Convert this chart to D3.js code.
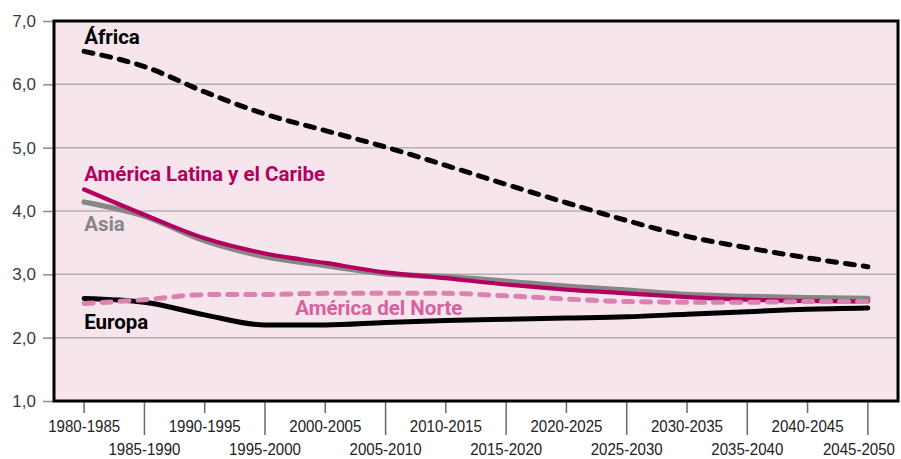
<!DOCTYPE html>
<html>
<head>
<meta charset="utf-8">
<script src="https://cdn.jsdelivr.net/npm/d3@7"></script>
<style>
  body { margin: 0; background: #fff; }
  svg { display: block; }
</style>
</head>
<body>
<div id="chart"></div>
<script>
let w = 901, h = 459;
let margin = {top: 21, right: 3, bottom: 58, left: 54};

// periods on the x axis
let periods = ["1980-1985","1985-1990","1990-1995","1995-2000","2000-2005","2005-2010","2010-2015",
  "2015-2020","2020-2025","2025-2030","2030-2035","2035-2040","2040-2045","2045-2050"];

// fertility rate per region
let africa   = [6.52, 6.28, 5.88, 5.53, 5.27, 5.01, 4.72, 4.42, 4.13, 3.85, 3.60, 3.42, 3.26, 3.12];
let asia     = [4.14, 3.92, 3.53, 3.28, 3.14, 3.01, 2.96, 2.89, 2.81, 2.75, 2.68, 2.65, 2.63, 2.62];
let latam    = [4.34, 3.94, 3.57, 3.33, 3.18, 3.03, 2.94, 2.84, 2.76, 2.70, 2.64, 2.60, 2.58, 2.57];
let europe   = [2.62, 2.56, 2.36, 2.20, 2.20, 2.24, 2.27, 2.29, 2.31, 2.33, 2.37, 2.41, 2.45, 2.47];
let northAm  = [2.54, 2.60, 2.68, 2.68, 2.70, 2.70, 2.70, 2.66, 2.61, 2.57, 2.56, 2.56, 2.57, 2.57];

let yTicks = [1, 2, 3, 4, 5, 6, 7];

let viz = d3.select("#chart").append("svg")
  .attr("width", w)
  .attr("height", h);

let x = d3.scalePoint().domain(periods)
  .range([margin.left, w - margin.right]).padding(0.5);
let y = d3.scaleLinear().domain([1, 7]).range([h - margin.bottom, margin.top]);

// background
viz.append("rect")
  .attr("x", margin.left).attr("y", margin.top)
  .attr("width", w - margin.right - margin.left)
  .attr("height", h - margin.bottom - margin.top)
  .attr("fill", "#f6e5ed");

// grid lines
viz.selectAll(".grid").data(yTicks.slice(1, -1)).enter()
  .append("line")
  .attr("x1", margin.left).attr("x2", w - margin.right)
  .attr("y1", d => y(d)).attr("y2", d => y(d))
  .attr("stroke", "#b3b0b2").attr("stroke-width", 1.5);

// y axis
let yAxis = d3.axisLeft(y).tickValues(yTicks).tickSize(11).tickPadding(7)
  .tickFormat(d => d3.format(".1f")(d).replace(".", ","));
let yg = viz.append("g").attr("transform", "translate(" + margin.left + ",0)").call(yAxis);
yg.select(".domain").remove();
yg.selectAll("line").attr("stroke", "#8a8a8a").attr("stroke-width", 1.5);
yg.selectAll("text")
  .attr("font-family", "Liberation Sans, Arial, sans-serif")
  .attr("font-size", 17).attr("fill", "#3a3a3a");

// x axis: alternating short / long ticks, labels on two rows
let xg = viz.append("g").attr("class", "xaxis");
xg.selectAll("line").data(periods).enter()
  .append("line")
  .attr("x1", d => x(d)).attr("x2", d => x(d))
  .attr("y1", y(1))
  .attr("y2", (d, i) => y(1) + (i % 2 ? 34 : 12))
  .attr("stroke", "#6a6a6a").attr("stroke-width", 1.5);
let last = periods.length - 1;
// condensed look: squeeze regular glyphs to the width of the original labels
xg.selectAll("text").data(periods).enter()
  .append("text")
  .attr("x", (d, i) => i == last ? w - 78 : x(d) - 36)
  .attr("y", (d, i) => y(1) + (i % 2 ? 54 : 31))
  .attr("textLength", 72)
  .attr("lengthAdjust", "spacingAndGlyphs")
  .attr("font-family", "Liberation Sans, Arial, sans-serif")
  .attr("font-size", 16.5).attr("fill", "#222")
  .text(d => d);

let line = d3.line()
  .x((d, i) => x(periods[i]))
  .y(d => y(d))
  .curve(d3.curveMonotoneX);

let series = [
  {name: "África", values: africa, color: "#000", width: 5, dash: "9,9"},
  {name: "Asia", values: asia, color: "#878787", width: 5.5, dash: null},
  {name: "América Latina y el Caribe", values: latam, color: "#b3005e", width: 4.2, dash: null},
  {name: "Europa", values: europe, color: "#000", width: 5, dash: null},
  {name: "América del Norte", values: northAm, color: "#dc82b0", width: 5, dash: "9,9"}
];

viz.selectAll(".series").data(series).enter()
  .append("path")
  .attr("class", "series")
  .attr("d", d => line(d.values))
  .attr("fill", "none")
  .attr("stroke", d => d.color)
  .attr("stroke-width", d => d.width)
  .attr("stroke-dasharray", d => d.dash)
  .attr("stroke-linecap", "round")
  .attr("stroke-linejoin", "round");

// labels
let labels = [
  {text: "África", color: "#000", period: "1980-1985", value: 6.63},
  {text: "América Latina y el Caribe", color: "#b3005e", period: "1980-1985", value: 4.47},
  {text: "Asia", color: "#878787", period: "1980-1985", value: 3.68},
  {text: "Europa", color: "#000", period: "1980-1985", value: 2.13},
  {text: "América del Norte", color: "#d8609e", period: "2000-2005", value: 2.36}
];
viz.selectAll(".lbl").data(labels).enter()
  .append("text")
  .attr("class", "lbl")
  .attr("x", d => x(d.period) - (d.period == "2000-2005" ? 30 : 0))
  .attr("y", d => y(d.value))
  .attr("font-family", "Roboto, Liberation Sans, sans-serif")
  .attr("font-weight", "bold")
  .attr("font-size", 20.5)
  .attr("fill", d => d.color)
  .text(d => d.text);

// frame
viz.append("rect")
  .attr("x", margin.left).attr("y", margin.top)
  .attr("width", w - margin.right - margin.left)
  .attr("height", h - margin.bottom - margin.top)
  .attr("fill", "none").attr("stroke", "#000").attr("stroke-width", 3);
</script>
</body>
</html>
